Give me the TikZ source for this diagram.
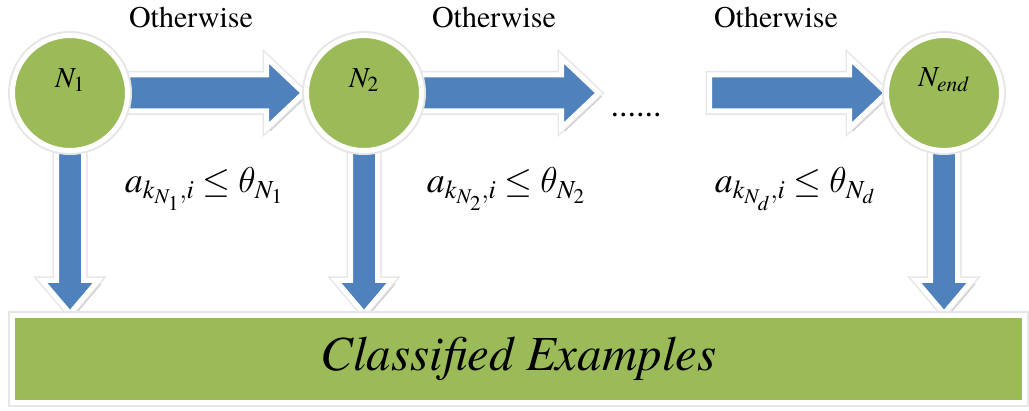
\documentclass[tikz,border=0pt]{standalone}
\usepackage{fix-cm}
\usepackage{mathptmx}
\usepackage{fontspec}
\setmainfont{TeX Gyre Termes}
\usetikzlibrary{calc,shadows}
\DeclareMathSizes{36}{36}{26}{21}
% slanted theta taken from the Computer Modern math italic
\DeclareSymbolFont{cmletters}{OML}{cmm}{m}{it}
\DeclareMathSymbol{\thetaslanted}{\mathord}{cmletters}{"12}
\pgfdeclarelayer{back}
\pgfsetlayers{back,main}

\definecolor{ofblue}{HTML}{4F81BD}
\definecolor{ofgreen}{HTML}{9BBB59}
\definecolor{glow}{HTML}{E6E6E6}

% horizontal block arrow: #1 = tail point, #2 = tip point
\newcommand\harrow[2]{%
  \path[blockarrow] ($(#1)+(0,-18)$) -- ($(#2)+(-37,-18)$) -- ($(#2)+(-37,-35)$)
    -- (#2) -- ($(#2)+(-37,35)$) -- ($(#2)+(-37,18)$) -- ($(#1)+(0,18)$) -- cycle;}
% vertical (downward) block arrow: #1 = tail point, #2 = tip point
\newcommand\varrow[2]{%
  \path[blockarrow] ($(#1)+(-13.5,0)$) -- ($(#2)+(-13.5,-33)$) -- ($(#2)+(-28,-33)$)
    -- (#2) -- ($(#2)+(28,-33)$) -- ($(#2)+(13.5,-33)$) -- ($(#1)+(13.5,0)$) -- cycle;}

\begin{document}
\begin{tikzpicture}[x=1pt,y=-1pt,
  blockarrow/.style={fill=ofblue, draw=white, line width=5pt, line join=miter,
    drop shadow={shadow xshift=3.5pt, shadow yshift=-3.5pt, opacity=0.5, fill=black!45},
    preaction={draw=glow, line width=8pt}},
  decnode/.style={circle, fill=ofgreen, draw=white, line width=5pt, minimum size=115pt,
    inner sep=0pt, outer sep=0pt,
    drop shadow={shadow xshift=2pt, shadow yshift=-3pt, opacity=0.4, fill=black!45},
    preaction={draw=glow, line width=9pt}},
  nodelabel/.style={font=\fontsize{29}{33}\selectfont, yshift=13pt},
  otherwise/.style={anchor=base, font=\fontsize{30}{36}\selectfont},
  condition/.style={anchor=base, font=\fontsize{36}{42}\selectfont},
  resultbar/.style={rectangle, fill=ofgreen, draw=white, line width=5pt,
    minimum width=1012pt, minimum height=87pt, inner sep=0pt, outer sep=0pt,
    font=\fontsize{49}{56}\selectfont\itshape,
    drop shadow={shadow xshift=0pt, shadow yshift=-4pt, opacity=0.4, fill=black!45},
    preaction={draw=glow, line width=9pt}}]
\useasboundingbox (0,0) rectangle (1029,411);

% decision nodes
\node[decnode, label={[nodelabel]center:$N_1$}] (n1) at (70,93) {};
\node[decnode, label={[nodelabel]center:$N_2$}] (n2) at (364,93) {};
\node[decnode, label={[nodelabel]center:$N_{end}$}] (nend) at (944,93) {};

% result bar
\node[resultbar] (bar) at (518.5,359) {Classified Examples};

% open ends of the chain
\coordinate (a2tip) at (598.5,93);
\coordinate (a3tail) at (709.5,93);
\node[anchor=base, font=\fontsize{34}{40}\selectfont, inner sep=0pt] (dots) at (636,117) {......};

% arrows behind the nodes
\begin{pgfonlayer}{back}
  \harrow{n1.east}{$(n2.west)+(-3,0)$}
  \harrow{n2.east}{a2tip}
  \harrow{a3tail}{nend.west}
  \varrow{n1.south}{$(n1 |- bar.north)+(0,-2)$}
  \varrow{n2.south}{$(n2 |- bar.north)+(0,-2)$}
  \varrow{nend.south}{$(nend |- bar.north)+(0,-2)$}
\end{pgfonlayer}

% labels
\node[otherwise] (ow1) at (191,28) {Otherwise};
\node[otherwise] (ow2) at (494,28) {Otherwise};
\node[otherwise] (ow3) at (776,28) {Otherwise};

\node[condition] (c1) at (204,193) {$a_{k_{N_1},i}\leq\thetaslanted_{N_1}$};
\node[condition] (c2) at (506,193) {$a_{k_{N_2},i}\leq\thetaslanted_{N_2}$};
\node[condition] (c3) at (795,193) {$a_{k_{N_d},i}\leq\thetaslanted_{N_d}$};
\end{tikzpicture}
\end{document}
